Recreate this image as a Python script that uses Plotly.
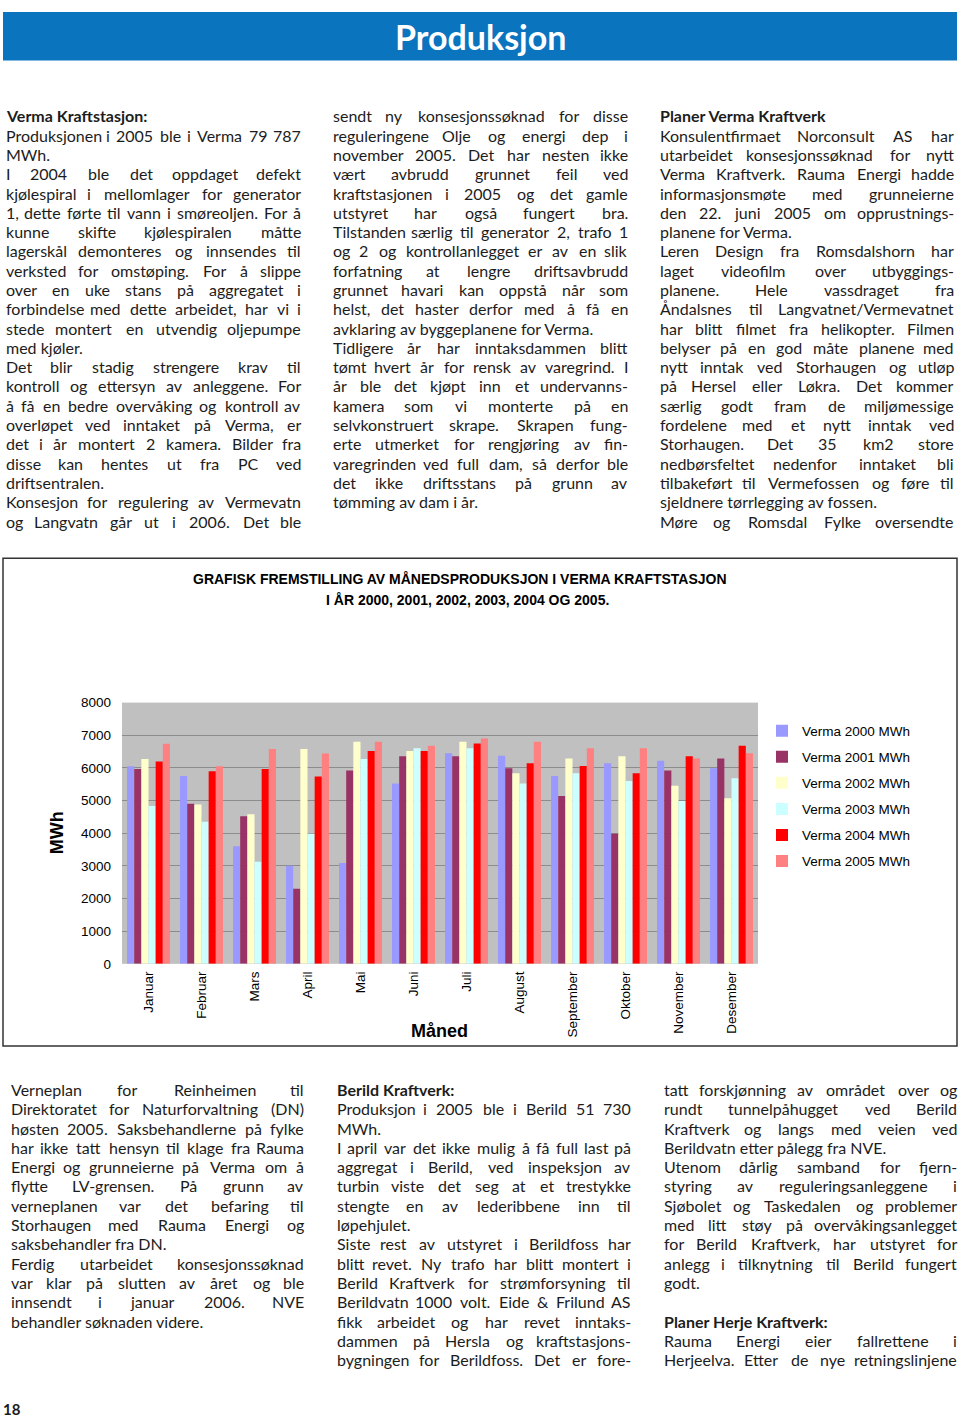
import plotly.graph_objects as go

W, H = 960, 1426


def px(x):
    return x / W


def py(y):
    return 1 - y / H


# ---------------- chart data ----------------
months = ["Januar", "Februar", "Mars", "April", "Mai", "Juni", "Juli",
          "August", "September", "Oktober", "November", "Desember"]
series_names = ["Verma 2000 MWh", "Verma 2001 MWh", "Verma 2002 MWh",
                "Verma 2003 MWh", "Verma 2004 MWh", "Verma 2005 MWh"]
v2000 = [6050, 5750, 3600, 3000, 3090, 5520, 6450, 6370, 5750, 6140, 6220, 5990]
v2001 = [5970, 4900, 4520, 2300, 5920, 6360, 6360, 5990, 5140, 3980, 5920, 6290]
v2002 = [6270, 4880, 4580, 6580, 6800, 6520, 6800, 5840, 6290, 6360, 5450, 5070]
v2003 = [4830, 4350, 3130, 3980, 6270, 6600, 6600, 5520, 5840, 5600, 4990, 5680]
v2004 = [6200, 5900, 5970, 5740, 6520, 6520, 6750, 6140, 6060, 5840, 6360, 6680]
v2005 = [6740, 6050, 6580, 6440, 6800, 6680, 6900, 6800, 6600, 6600, 6290, 6450]
series_values = [v2000, v2001, v2002, v2003, v2004, v2005]
colors = ["#9999ff", "#993366", "#ffffcc", "#ccffff", "#ff0000", "#ff8080"]
y_ticks = [0, 1000, 2000, 3000, 4000, 5000, 6000, 7000, 8000]

chart_title_1 = "GRAFISK FREMSTILLING AV MÅNEDSPRODUKSJON I VERMA KRAFTSTASJON"
chart_title_2 = "I ÅR 2000, 2001, 2002, 2003, 2004 OG 2005."

# ---------------- page text ----------------
# prefix "#" = bold heading, "=" = last line of paragraph (ragged), "" = justified
col1_top = [
    "#Verma Kraftstasjon:",
    "Produksjonen i 2005 ble i Verma 79 787",
    "=MWh.",
    "I 2004 ble det oppdaget defekt",
    "kjølespiral i mellomlager for generator",
    "1, dette førte til vann i smøreoljen. For å",
    "kunne skifte kjølespiralen måtte",
    "lagerskål demonteres og innsendes til",
    "verksted for omstøping. For å slippe",
    "over en uke stans på aggregatet i",
    "forbindelse med dette arbeidet, har vi i",
    "stede montert en utvendig oljepumpe",
    "=med kjøler.",
    "Det blir stadig strengere krav til",
    "kontroll og ettersyn av anleggene. For",
    "å få en bedre overvåking og kontroll av",
    "overløpet ved inntaket på Verma, er",
    "det i år montert 2 kamera. Bilder fra",
    "disse kan hentes ut fra PC ved",
    "=driftsentralen.",
    "Konsesjon for regulering av Vermevatn",
    "og Langvatn går ut i 2006. Det ble",
]
col2_top = [
    "sendt ny konsesjonssøknad for disse",
    "reguleringene Olje og energi dep i",
    "november 2005. Det har nesten ikke",
    "vært avbrudd grunnet feil ved",
    "kraftstasjonen i 2005 og det gamle",
    "utstyret har også fungert bra.",
    "Tilstanden særlig til generator 2, trafo 1",
    "og 2 og kontrollanlegget er av en slik",
    "forfatning at lengre driftsavbrudd",
    "grunnet havari kan oppstå når som",
    "helst, det haster derfor med å få en",
    "=avklaring av byggeplanene for Verma.",
    "Tidligere år har inntaksdammen blitt",
    "tømt hvert år for rensk av varegrind. I",
    "år ble det kjøpt inn et undervanns-",
    "kamera som vi monterte på en",
    "selvkonstruert skrape. Skrapen fung-",
    "erte utmerket for rengjøring av fin-",
    "varegrinden ved full dam, så derfor ble",
    "det ikke driftsstans på grunn av",
    "=tømming av dam i år.",
]
col3_top = [
    "#Planer Verma Kraftverk",
    "Konsulentfirmaet Norconsult AS har",
    "utarbeidet konsesjonssøknad for nytt",
    "Verma Kraftverk. Rauma Energi hadde",
    "informasjonsmøte med grunneierne",
    "den 22. juni 2005 om opprustnings-",
    "=planene for Verma.",
    "Leren Design fra Romsdalshorn har",
    "laget videofilm over utbyggings-",
    "planene. Hele vassdraget fra",
    "Åndalsnes til Langvatnet/Vermevatnet",
    "har blitt filmet fra helikopter. Filmen",
    "belyser på en god måte planene med",
    "nytt inntak ved Storhaugen og utløp",
    "på Hersel eller Løkra. Det kommer",
    "særlig godt fram de miljømessige",
    "fordelene med et nytt inntak ved",
    "Storhaugen. Det 35 km2 store",
    "nedbørsfeltet nedenfor inntaket bli",
    "tilbakeført til Vermefossen og føre til",
    "=sjeldnere tørrlegging av fossen.",
    "Møre og Romsdal Fylke oversendte",
]
col1_bot = [
    "Verneplan for Reinheimen til",
    "Direktoratet for Naturforvaltning (DN)",
    "høsten 2005. Saksbehandlerne på fylke",
    "har ikke tatt hensyn til klage fra Rauma",
    "Energi og grunneierne på Verma om å",
    "flytte LV-grensen. På grunn av",
    "verneplanen var det befaring til",
    "Storhaugen med Rauma Energi og",
    "=saksbehandler fra DN.",
    "Ferdig utarbeidet konsesjonssøknad",
    "var klar på slutten av året og ble",
    "innsendt i januar 2006. NVE",
    "=behandler søknaden videre.",
]
col2_bot = [
    "#Berild Kraftverk:",
    "Produksjon i 2005 ble i Berild 51 730",
    "=MWh.",
    "I april var det ikke mulig å få full last på",
    "aggregat i Berild, ved inspeksjon av",
    "turbin viste det seg at et trestykke",
    "stengte en av lederibbene inn til",
    "=løpehjulet.",
    "Siste rest av utstyret i Berildfoss har",
    "blitt revet. Ny trafo har blitt montert i",
    "Berild Kraftverk for strømforsyning til",
    "Berildvatn 1000 volt. Eide & Frilund AS",
    "fikk arbeidet og har revet inntaks-",
    "dammen på Hersla og kraftstasjons-",
    "bygningen for Berildfoss. Det er fore-",
]
col3_bot = [
    "tatt forskjønning av området over og",
    "rundt tunnelpåhugget ved Berild",
    "Kraftverk og langs med veien ved",
    "=Berildvatn etter pålegg fra NVE.",
    "Utenom dårlig samband for fjern-",
    "styring av reguleringsanleggene i",
    "Sjøbolet og Taskedalen og problemer",
    "med litt støy på overvåkingsanlegget",
    "for Berild Kraftverk, har utstyret for",
    "anlegg i tilknytning til Berild fungert",
    "=godt.",
    "=",
    "#Planer Herje Kraftverk:",
    "Rauma Energi eier fallrettene i",
    "Herjeelva. Etter de nye retningslinjene",
]

BODY_FONT = "Lato"
BODY_SIZE = 16
TEXT_COLOR = "#1c1c1c"

_w = {
    'a': .49, 'b': .55, 'c': .45, 'd': .55, 'e': .51, 'f': .31, 'g': .49, 'h': .55,
    'i': .23, 'j': .23, 'k': .5, 'l': .23, 'm': .83, 'n': .55, 'o': .55, 'p': .55,
    'q': .55, 'r': .36, 's': .42, 't': .34, 'u': .55, 'v': .5, 'w': .77, 'x': .49,
    'y': .5, 'z': .45, 'æ': .8, 'ø': .55, 'å': .49,
    'A': .66, 'B': .62, 'C': .66, 'D': .73, 'E': .55, 'F': .53, 'G': .71, 'H': .74,
    'I': .28, 'J': .39, 'K': .63, 'L': .49, 'M': .88, 'N': .74, 'O': .78, 'P': .58,
    'Q': .78, 'R': .6, 'S': .5, 'T': .58, 'U': .71, 'V': .66, 'W': .99, 'X': .63,
    'Y': .6, 'Z': .6, 'Å': .66, 'Ø': .78, 'Æ': .9,
    '.': .24, ',': .24, ':': .24, '-': .36, '/': .38, '(': .3, ')': .3, '&': .7,
}


def word_width(wd):
    return sum(_w.get(ch, .58) for ch in wd) * BODY_SIZE


annotations = []


def text_ann(x, y, text, size=BODY_SIZE, xanchor="left", family=BODY_FONT,
             color=TEXT_COLOR, **kw):
    annotations.append(dict(
        x=x, y=y, xref="paper", yref="paper", text=text, showarrow=False,
        xanchor=xanchor, yanchor="middle", borderpad=0,
        font=dict(family=family, size=size, color=color), **kw))


def add_block(lines, x0, x1, y0, dy=19.5):
    for k, line in enumerate(lines):
        y = py(y0 + k * dy)
        if line.startswith("#"):
            text_ann(px(x0), y, "<b>" + line[1:] + "</b>")
        elif line.startswith("="):
            if line[1:]:
                text_ann(px(x0), y, line[1:])
        else:
            words = line.split()
            if len(words) == 1:
                text_ann(px(x0), y, words[0])
                continue
            widths = [word_width(wd) for wd in words]
            gap = (x1 - x0 - sum(widths)) / (len(words) - 1)
            pos = x0
            for i, (wd, wv) in enumerate(zip(words, widths)):
                if i == 0:
                    text_ann(px(x0), y, wd, xanchor="left")
                elif i == len(words) - 1:
                    text_ann(px(x1), y, wd, xanchor="right")
                else:
                    text_ann(px(pos + wv / 2), y, wd, xanchor="center")
                pos += wv + gap


add_block(col1_top, 5, 302, 110)
add_block(col2_top, 332, 629, 110)
add_block(col3_top, 659, 955, 110)
add_block(col1_bot, 10, 305, 1094)
add_block(col2_bot, 336, 632, 1094)
add_block(col3_bot, 663, 958, 1094)

# header title
text_ann(px(480), py(30), "<b>Produksjon</b>", size=34, xanchor="center", color="#ffffff")
# chart titles
CH_FONT = "Liberation Sans, Arial, sans-serif"
text_ann(px(460), py(578), "<b>" + chart_title_1 + "</b>", size=14, xanchor="center",
         family=CH_FONT, color="#000000")
text_ann(px(467), py(599), "<b>" + chart_title_2 + "</b>", size=14, xanchor="center",
         family=CH_FONT, color="#000000")
text_ann(px(57), py(835), "<b>MWh</b>", size=18, xanchor="center", family=CH_FONT,
         color="#000000", textangle=-90)
text_ann(px(439), py(1035), "<b>Måned</b>", size=18, xanchor="center", family=CH_FONT,
         color="#000000")
# page number
text_ann(px(2), py(1417), "<b>18</b>", size=15, xanchor="left")

fig = go.Figure()
for i, (name, vals, c) in enumerate(zip(series_names, series_values, colors)):
    fig.add_trace(go.Bar(x=months, y=vals, name=name, legendgroup=f"g{i}",
                         marker=dict(color=c, line=dict(width=0))))

fig.update_layout(
    width=W, height=H, autosize=False,
    margin=dict(l=0, r=0, t=0, b=0),
    paper_bgcolor="#ffffff", plot_bgcolor="#c0c0c0",
    barmode="group", bargap=0.19, bargroupgap=0, hovermode=False,
    xaxis=dict(domain=[px(122), px(758)], anchor="y", tickangle=-90,
               tickfont=dict(family=CH_FONT, size=13.5, color="#000000"),
               showgrid=False, showline=False, ticks="", ticklabelstandoff=4),
    yaxis=dict(domain=[py(967), py(703)], range=[0, 8000], tickvals=y_ticks,
               tickfont=dict(family=CH_FONT, size=13.5, color="#000000"),
               showgrid=True, gridcolor="#8c8c8c", gridwidth=1, zeroline=False,
               showline=False, ticks="", ticklabelstandoff=10),
    legend=dict(x=px(762), y=py(716), xanchor="left", yanchor="top",
                traceorder="grouped", tracegroupgap=5.5, itemwidth=30,
                font=dict(family=CH_FONT, size=13.5, color="#000000"),
                bgcolor="rgba(0,0,0,0)"),
    showlegend=True,
    annotations=annotations,
    shapes=[
        dict(type="rect", xref="paper", yref="paper", x0=px(3), x1=px(957),
             y0=py(54), y1=py(5), fillcolor="#0a74bf", line=dict(width=0),
             layer="below"),
        dict(type="rect", xref="paper", yref="paper", x0=px(3), x1=px(957),
             y0=py(1050), y1=py(557), fillcolor="rgba(0,0,0,0)",
             line=dict(color="#333333", width=1.5), layer="below"),
    ],
)

page_fix = (
    "document.documentElement.style.margin='0';"
    "document.documentElement.style.height='1426px';"
    "document.documentElement.style.overflow='hidden';"
    "document.body.style.margin='0';document.body.style.padding='0';"
    "document.body.style.height='1426px';document.body.style.overflow='hidden';"
    "var gd=document.getElementsByClassName('plotly-graph-div')[0];"
    "gd.style.position='absolute';gd.style.left='0px';gd.style.top='0px';"
)

fig.write_html("out.html", config={"displayModeBar": False}, post_script=page_fix)
